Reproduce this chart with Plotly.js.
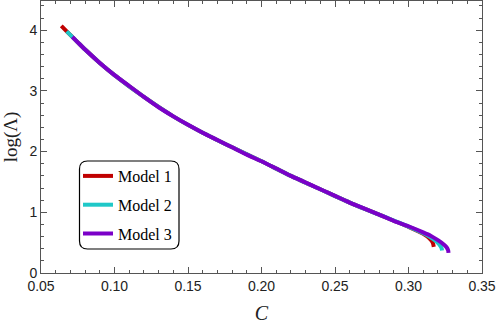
<!DOCTYPE html>
<html>
<head>
<meta charset="utf-8">
<script src="https://cdn.plot.ly/plotly-3.0.1.min.js"></script>
<style>html,body{margin:0;padding:0;background:#fff;}#chart{width:498px;height:324px;}</style>
</head>
<body>
<div id="chart"></div>
<script>
// Model 3 (purple)
var model3X = [0.0713, 0.075, 0.08, 0.09, 0.10, 0.11, 0.12, 0.13, 0.14, 0.15, 0.16, 0.17, 0.18, 0.19, 0.20, 0.21, 0.22, 0.23, 0.24, 0.25, 0.26, 0.27, 0.28, 0.29, 0.30, 0.31, 0.315, 0.32, 0.324, 0.326, 0.327, 0.3272];
var model3Y = [3.89, 3.80, 3.68, 3.46, 3.26, 3.08, 2.90, 2.73, 2.58, 2.44, 2.31, 2.19, 2.07, 1.95, 1.84, 1.72, 1.60, 1.49, 1.38, 1.27, 1.16, 1.06, 0.96, 0.86, 0.77, 0.67, 0.615, 0.54, 0.47, 0.42, 0.37, 0.33];
// Model 2 (cyan)
var model2X = [0.0675, 0.0713, 0.075, 0.08, 0.09, 0.10, 0.12, 0.14, 0.16, 0.18, 0.20, 0.22, 0.24, 0.26, 0.28, 0.30, 0.31, 0.315, 0.319, 0.321, 0.3225, 0.3228];
var model2Y = [3.98, 3.89, 3.80, 3.68, 3.46, 3.26, 2.90, 2.58, 2.31, 2.07, 1.84, 1.60, 1.38, 1.16, 0.96, 0.765, 0.655, 0.59, 0.52, 0.47, 0.41, 0.37];
// Model 1 (red)
var model1X = [0.0638, 0.0675, 0.0713, 0.075, 0.08, 0.09, 0.10, 0.12, 0.14, 0.16, 0.18, 0.20, 0.22, 0.24, 0.26, 0.28, 0.30, 0.31, 0.314, 0.3165, 0.3172];
var model1Y = [4.07, 3.98, 3.89, 3.80, 3.68, 3.46, 3.26, 2.90, 2.58, 2.31, 2.07, 1.84, 1.60, 1.38, 1.16, 0.96, 0.76, 0.645, 0.575, 0.50, 0.43];

var names = ['Model 1', 'Model 2', 'Model 3'];
var colors = ['#c00000', '#1fc8c8', '#7b00c8'];
var xTicks = [0.05, 0.10, 0.15, 0.20, 0.25, 0.30, 0.35];
var xTickText = ['0.05', '0.10', '0.15', '0.20', '0.25', '0.30', '0.35'];
var yTicks = [0, 1, 2, 3, 4];

var xs = [model1X, model2X, model3X];
var ys = [model1Y, model2Y, model3Y];
var traces = [];
for (var i = 0; i < 3; i++) {
  traces.push({
    x: xs[i], y: ys[i], name: names[i], type: 'scatter', mode: 'lines',
    legendgroup: 'g' + i,
    line: {color: colors[i], width: 4, shape: 'spline', smoothing: 0.6}
  });
}

var L = 41, R = 16, T = 1, B = 51;
var W = 498 - L - R, H = 324 - T - B;
// legend box in paper coords (rounded)
var bx0 = (79.5 - L) / W, bx1 = (179 - L) / W;
var by1 = (324 - B - 161) / H, by0 = (324 - B - 249) / H;
var rx = 8 / W, ry = 8 / H;
var path = 'M ' + (bx0 + rx) + ' ' + by1 +
  ' L ' + (bx1 - rx) + ' ' + by1 +
  ' Q ' + bx1 + ' ' + by1 + ' ' + bx1 + ' ' + (by1 - ry) +
  ' L ' + bx1 + ' ' + (by0 + ry) +
  ' Q ' + bx1 + ' ' + by0 + ' ' + (bx1 - rx) + ' ' + by0 +
  ' L ' + (bx0 + rx) + ' ' + by0 +
  ' Q ' + bx0 + ' ' + by0 + ' ' + bx0 + ' ' + (by0 + ry) +
  ' L ' + bx0 + ' ' + (by1 - ry) +
  ' Q ' + bx0 + ' ' + by1 + ' ' + (bx0 + rx) + ' ' + by1 + ' Z';

var axisCommon = {
  showgrid: false, zeroline: false, showline: true, mirror: 'ticks',
  linecolor: '#555', linewidth: 1, ticks: 'inside', ticklen: 6, tickcolor: '#555',
  tickfont: {family: 'Liberation Sans, Arial, sans-serif', size: 14, color: '#222'}
};

var layout = {
  width: 498, height: 324,
  margin: {l: L, r: R, t: T, b: B},
  paper_bgcolor: '#fff', plot_bgcolor: '#fff',
  showlegend: true,
  legend: {
    x: (78 - L) / W, y: (324 - B - 159) / H, xanchor: 'left', yanchor: 'top',
    bgcolor: 'rgba(0,0,0,0)', borderwidth: 0,
    font: {family: 'Liberation Serif, Times New Roman, serif', size: 16, color: '#000'},
    traceorder: 'grouped', tracegroupgap: 5, itemwidth: 30
  },
  xaxis: Object.assign({}, axisCommon, {
    range: [0.05, 0.35], tickvals: xTicks, ticktext: xTickText,
    minor: {dtick: 0.01, ticks: 'inside', ticklen: 3, tickcolor: '#555', showgrid: false},
    title: {text: '<i>C</i>', font: {family: 'Liberation Serif, Times New Roman, serif', size: 20, color: '#222'}, standoff: 14}
  }),
  yaxis: Object.assign({}, axisCommon, {
    range: [0, 4.48], tickvals: yTicks,
    minor: {dtick: 0.2, ticks: 'inside', ticklen: 3, tickcolor: '#555', showgrid: false},
    title: {text: 'log(Λ)', font: {family: 'Liberation Serif, Times New Roman, serif', size: 19, color: '#222'}, standoff: 8}
  }),
  shapes: [{type: 'path', xref: 'paper', yref: 'paper', path: path, line: {color: '#000', width: 1.2}, fillcolor: 'rgba(255,255,255,1)', layer: 'above'}]
};
Plotly.newPlot('chart', traces, layout, {displayModeBar: false, staticPlot: true});
</script>
</body>
</html>
